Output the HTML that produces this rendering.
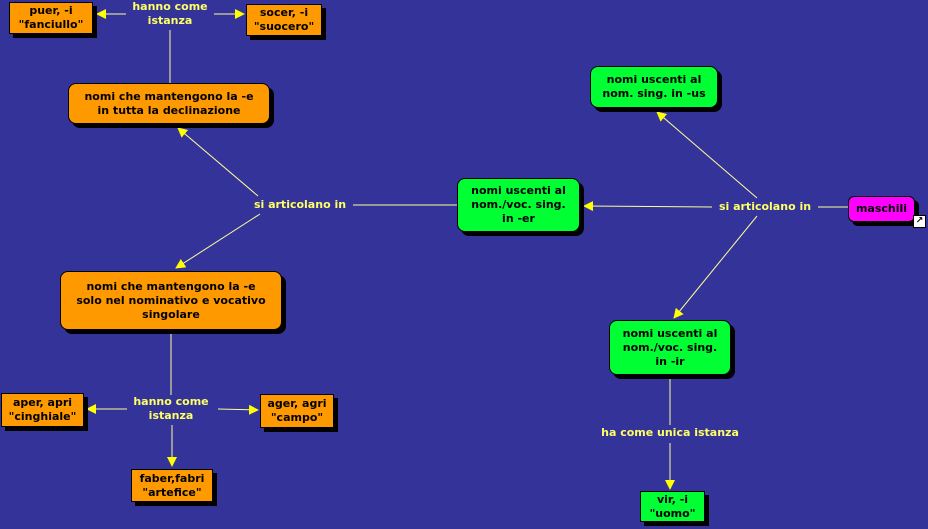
<!DOCTYPE html>
<html><head><meta charset="utf-8"><style>
body{margin:0;width:928px;height:529px;background:#333399;position:relative;overflow:hidden;font-family:"DejaVu Sans","Liberation Sans",sans-serif;font-weight:bold;font-size:11px;}
.b{position:absolute;box-sizing:border-box;border:1px solid #000;display:flex;align-items:center;justify-content:center;text-align:center;line-height:14px;color:#000;box-shadow:4px 4px 0 #000;}
.o{background:#ff9900}.g{background:#00ff33;border-radius:8px}.r{border-radius:8px}
.l{position:absolute;color:#ffff66;text-align:center;line-height:14px;background:#333399;white-space:nowrap}
svg{position:absolute;left:0;top:0}
</style></head><body>
<svg width="928" height="529">
<defs><marker id="a" markerWidth="10" markerHeight="10" refX="9" refY="5" orient="auto" markerUnits="userSpaceOnUse"><path d="M0,0L10,5L0,10z" fill="#ffff00"/></marker></defs>
<g stroke="#ffff99" stroke-width="1" fill="none">
<line x1="170" y1="30" x2="170" y2="83"/>
<line x1="126" y1="14" x2="97" y2="14" marker-end="url(#a)"/>
<line x1="208" y1="14" x2="244" y2="14" marker-end="url(#a)"/>
<line x1="258" y1="196" x2="178" y2="128" marker-end="url(#a)"/>
<line x1="260" y1="214" x2="176" y2="268" marker-end="url(#a)"/>
<line x1="353" y1="205" x2="457" y2="205"/>
<line x1="712" y1="207" x2="584" y2="206" marker-end="url(#a)"/>
<line x1="818" y1="207" x2="848" y2="207"/>
<line x1="757" y1="198" x2="657" y2="112" marker-end="url(#a)"/>
<line x1="757" y1="216" x2="674" y2="318" marker-end="url(#a)"/>
<line x1="171" y1="331" x2="171" y2="395"/>
<line x1="128" y1="409" x2="87" y2="409" marker-end="url(#a)"/>
<line x1="218" y1="409" x2="258" y2="410" marker-end="url(#a)"/>
<line x1="172" y1="425" x2="172" y2="466" marker-end="url(#a)"/>
<line x1="670" y1="376" x2="670" y2="425"/>
<line x1="670" y1="443" x2="670" y2="489" marker-end="url(#a)"/>
</g></svg>
<div class="b o" style="left:9px;top:2px;width:84px;height:32px">puer, -i<br>"fanciullo"</div>
<div class="b o" style="left:246px;top:4px;width:76px;height:32px">socer, -i<br>"suocero"</div>
<div class="b o r" style="left:68px;top:83px;width:202px;height:41px">nomi che mantengono la -e<br>in tutta la declinazione</div>
<div class="b o r" style="left:60px;top:271px;width:222px;height:59px">nomi che mantengono la -e<br>solo nel nominativo e vocativo<br>singolare</div>
<div class="b o" style="left:1px;top:393px;width:83px;height:34px">aper, apri<br>"cinghiale"</div>
<div class="b o" style="left:260px;top:394px;width:74px;height:34px">ager, agri<br>"campo"</div>
<div class="b o" style="left:131px;top:469px;width:82px;height:33px">faber,fabri<br>"artefice"</div>
<div class="b g" style="left:590px;top:66px;width:128px;height:42px">nomi uscenti al<br>nom. sing. in -us</div>
<div class="b g" style="left:457px;top:178px;width:123px;height:54px">nomi uscenti al<br>nom./voc. sing.<br>in -er</div>
<div class="b g" style="left:609px;top:320px;width:122px;height:55px">nomi uscenti al<br>nom./voc. sing.<br>in -ir</div>
<div class="b g" style="left:640px;top:491px;width:65px;height:31px;border-radius:0">vir, -i<br>"uomo"</div>
<div class="b" style="left:848px;top:196px;width:67px;height:26px;background:#ff00ff;border-radius:6px">maschili</div>
<div style="position:absolute;left:913px;top:215px;width:11px;height:11px;background:#fff;border:1px solid #000;font-size:9px;line-height:11px;text-align:center;color:#000">↗</div>
<div class="l" style="left:126px;top:0px;width:88px">hanno come<br>istanza</div>
<div class="l" style="left:248px;top:198px;width:104px">si articolano in</div>
<div class="l" style="left:713px;top:200px;width:104px">si articolano in</div>
<div class="l" style="left:127px;top:395px;width:88px">hanno come<br>istanza</div>
<div class="l" style="left:592px;top:426px;width:156px">ha come unica istanza</div>
</body></html>
